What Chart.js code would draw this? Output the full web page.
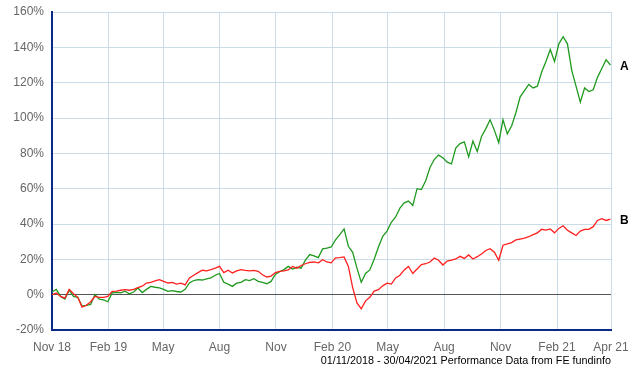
<!DOCTYPE html>
<html lang="en">
<head>
    <meta charset="UTF-8">
    <title>Performance chart</title>
    <script src="https://cdn.jsdelivr.net/npm/chart.js"></script>
    <style>
        body { margin: 0; background: #fff; }
        #chart { display: block; }
    </style>
</head>
<body>
    <canvas id="chart" width="640" height="370"></canvas>

    <script>
        // Weekly samples starting 01/11/2018 (one value per 7 days), cumulative % change
        const startDate = '2018-11-01';
        const stepDays = 7;

        const seriesA = [
            1.5, 3.0, -1.0, -2.5, 2.5, -1.0, -1.5, -6.5, -6.0, -5.5,
            0.0, -2.5, -3.0, -4.0, 1.0, 1.3, 1.0, 2.0, 0.5, 1.5,
            3.8, 1.2, 3.0, 4.7, 4.2, 3.8, 3.0, 1.9, 2.3, 1.8,
            1.5, 3.0, 6.6, 8.0, 8.5, 8.3, 9.0, 9.5, 11.0, 12.0,
            7.0, 6.0, 4.7, 6.5, 7.0, 8.5, 8.0, 9.0, 7.5, 7.0,
            6.2, 7.5, 11.5, 13.0, 14.2, 16.0, 14.5, 15.5, 15.0, 19.5,
            22.7, 22.0, 21.0, 25.9, 26.4, 27.0, 31.0, 34.0, 37.2, 27.4,
            24.0, 15.0, 7.0, 12.0, 14.0, 20.0, 27.0, 33.0, 36.0, 41.0,
            44.0, 49.0, 52.0, 53.0, 50.5, 60.0, 59.5, 64.5, 72.0, 76.5,
            79.0, 77.5, 75.0, 74.0, 83.0, 85.5, 86.5, 78.0, 87.0, 81.0,
            89.5, 94.0, 99.0, 93.0, 86.0, 99.0, 91.0, 95.5, 103.0, 112.0,
            115.5, 119.0, 117.0, 118.0, 126.0, 132.0, 138.8, 132.0, 142.0, 146.0,
            142.0, 127.0, 118.0, 109.0, 117.0, 115.0, 116.0, 123.0, 128.0, 133.0,
            130.0
        ];

        const seriesB = [
            0.0, 1.0, -1.0, -2.0, 3.0, 0.5, -1.5, -7.0, -6.0, -4.0,
            -1.0, -1.5, -1.5, -1.0, 1.9, 2.0, 2.5, 2.8, 2.5, 3.0,
            4.0, 4.8, 6.6, 7.0, 7.8, 8.5, 7.5, 6.6, 7.0, 6.0,
            6.5, 5.5, 9.5, 11.0, 12.5, 13.8, 13.5, 14.2, 15.0, 16.0,
            12.5, 13.8, 12.3, 13.5, 14.2, 13.8, 13.5, 13.8, 13.2, 11.3,
            10.0, 10.5, 12.5, 13.2, 13.5, 14.0, 16.0, 15.0, 16.5, 17.5,
            18.3, 18.5, 18.0, 19.8, 18.5, 18.0, 20.8, 21.0, 21.4, 16.0,
            4.0, -4.7, -8.0, -3.5, -1.5, 2.0, 2.8, 5.0, 6.5, 6.0,
            9.5, 11.0, 14.0, 16.0, 12.0, 14.5, 17.0, 17.5, 18.5, 20.8,
            19.5, 16.8, 19.0, 19.6, 20.2, 21.7, 20.5, 22.5, 20.2, 21.5,
            23.0, 25.0, 26.0, 24.0, 19.5, 28.0, 28.8, 29.5, 31.0, 31.5,
            32.0, 32.8, 34.0, 35.0, 37.0, 36.5, 37.2, 35.0, 37.5, 39.0,
            36.5, 35.0, 33.5, 36.0, 37.0, 37.0, 38.5, 42.0, 43.0, 42.0,
            42.8
        ];

        const tickDates = ['2018-11-01', '2019-02-01', '2019-05-01', '2019-08-01', '2019-11-01',
            '2020-02-01', '2020-05-01', '2020-08-01', '2020-11-01', '2021-02-01', '2021-04-30'];
        const tickLabels = ['Nov 18', 'Feb 19', 'May', 'Aug', 'Nov', 'Feb 20', 'May', 'Aug', 'Nov', 'Feb 21', 'Apr 21'];

        const seriesNames = ['A', 'B'];
        const footerText = '01/11/2018 - 30/04/2021 Performance Data from FE fundinfo';

        const dayMs = 24 * 3600 * 1000;
        function daysFromStart(d) {
            return Math.round((new Date(d + 'T00:00:00Z') - new Date(startDate + 'T00:00:00Z')) / dayMs);
        }
        const tickDays = tickDates.map(daysFromStart);

        function toPoints(series) {
            return series.map((v, i) => ({ x: i * stepDays, y: v }));
        }

        // draws the A / B tags and the footer line
        const extras = {
            id: 'extras',
            afterDatasetsDraw(chart) {
                const ctx = chart.ctx;
                const area = chart.chartArea;
                const y = chart.scales.y;
                ctx.save();
                ctx.fillStyle = '#000';
                ctx.font = 'bold 12px "Liberation Sans", Arial, sans-serif';
                ctx.textAlign = 'left';
                ctx.textBaseline = 'middle';
                [seriesA, seriesB].forEach((s, i) => {
                    ctx.fillText(seriesNames[i], area.right + 9, y.getPixelForValue(s[s.length - 1]) + 2);
                });
                ctx.font = '10.8px "Liberation Sans", Arial, sans-serif';
                ctx.textAlign = 'right';
                ctx.textBaseline = 'alphabetic';
                ctx.fillText(footerText, area.right, 364);
                ctx.restore();
            }
        };

        const gridColor = '#c9dce7';

        new Chart(document.getElementById('chart'), {
            type: 'line',
            data: {
                datasets: [{
                    label: seriesNames[0],
                    data: toPoints(seriesA),
                    borderColor: '#1f9a1f',
                    borderWidth: 1.3,
                    pointRadius: 0,
                    order: 1
                }, {
                    label: seriesNames[1],
                    data: toPoints(seriesB),
                    borderColor: '#ff1f1f',
                    borderWidth: 1.3,
                    pointRadius: 0,
                    order: 0
                }]
            },
            options: {
                responsive: false,
                animation: false,
                devicePixelRatio: 1,
                layout: { padding: { top: 12, right: 29, left: 0, bottom: 0 } },
                plugins: {
                    legend: { display: false },
                    tooltip: { enabled: false }
                },
                scales: {
                    x: {
                        type: 'linear',
                        min: 0,
                        max: tickDays[tickDays.length - 1],
                        afterBuildTicks: scale => {
                            scale.ticks = tickDays.map(v => ({ value: v }));
                        },
                        afterFit: scale => {
                            scale.height = 40;
                            scale.paddingLeft = 0;
                            scale.paddingRight = 0;
                        },
                        ticks: {
                            autoSkip: false,
                            maxRotation: 0,
                            padding: 10,
                            color: '#666',
                            font: { family: '"Liberation Sans", Arial, sans-serif', size: 12 },
                            callback: (value, index) => tickLabels[index]
                        },
                        grid: { color: gridColor, drawTicks: false },
                        border: { color: '#0b2a84', width: 2 }
                    },
                    y: {
                        min: -20,
                        max: 160,
                        afterFit: scale => {
                            scale.width = 52;
                            scale.paddingTop = 0;
                            scale.paddingBottom = 0;
                        },
                        ticks: {
                            stepSize: 20,
                            padding: 8,
                            color: '#666',
                            font: { family: '"Liberation Sans", Arial, sans-serif', size: 12 },
                            callback: v => v + '%'
                        },
                        grid: {
                            drawTicks: false,
                            color: c => c.tick && c.tick.value === 0 ? '#555' : gridColor
                        },
                        border: { color: '#0b2a84', width: 2 }
                    }
                }
            },
            plugins: [extras]
        });
    </script>
</body>
</html>
